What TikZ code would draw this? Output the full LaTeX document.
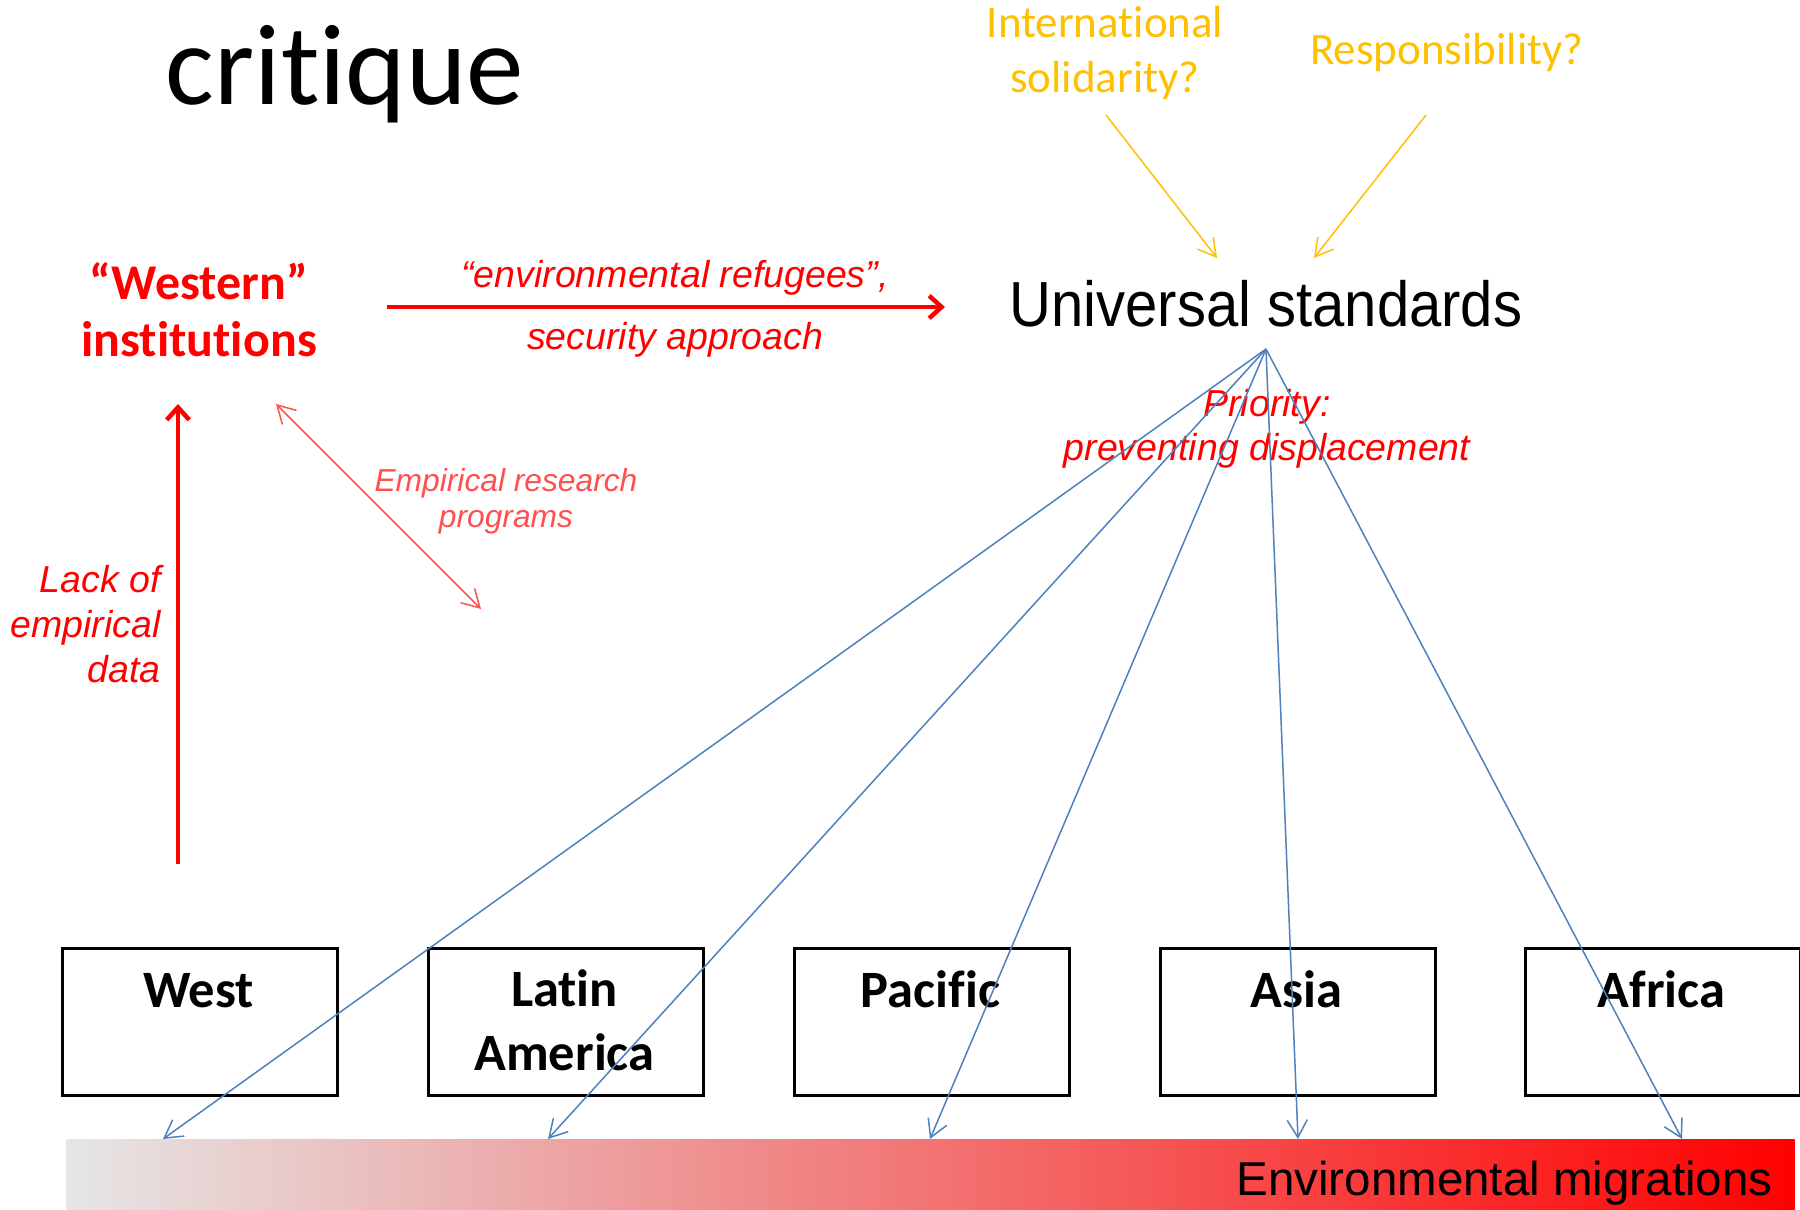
\documentclass[tikz,border=0pt]{standalone}
\usepackage{fontspec}
\setmainfont{Carlito}[Ligatures=NoCommon]
\newfontfamily\arial{Liberation Sans}
\newfontfamily\arialn[FakeStretch=0.91]{Liberation Sans}
\usetikzlibrary{arrows.meta}
\definecolor{gold}{RGB}{255,192,0}
\definecolor{oblue}{RGB}{79,129,189}
\definecolor{lred}{RGB}{255,80,80}
\definecolor{lgrey}{RGB}{230,230,230}
\tikzset{
  titlestyle/.style={font=\fontsize{46}{50}\selectfont, anchor=base, inner sep=0},
  inststyle/.style={font=\fontsize{20}{22.8}\selectfont\bfseries, text=red, align=center, anchor=base, inner sep=0},
  redlbl/.style={font=\arial\itshape\fontsize{15}{18}\selectfont, text=red, anchor=base, inner sep=0},
  empstyle/.style={font=\arial\itshape\fontsize{12.7}{14.5}\selectfont, text=lred, align=center, anchor=base, inner sep=0},
  usstyle/.style={font=\arialn\fontsize{25.5}{30}\selectfont, anchor=base, inner sep=0},
  goldstyle/.style={font=\fontsize{18}{22}\selectfont, text=gold, align=center, anchor=base, inner sep=0},
  regbox/.style={draw=black, line width=1pt, minimum width=110pt, minimum height=58.8pt, inner sep=0, anchor=north west},
  regtxt/.style={font=\fontsize{21}{25.6}\selectfont\bfseries, align=center, anchor=base, inner sep=0},
  migstyle/.style={font=\arial\fontsize{19}{22}\selectfont, anchor=base east, inner sep=0},
  barstyle/.style={left color=lgrey, right color=red, draw=none, minimum width=691.2pt, minimum height=28.4pt, inner sep=0, anchor=north west},
  redthick/.style={draw=red, line width=1.8pt, -{Straight Barb[length=5pt,width=9pt]}},
  bluearr/.style={draw=oblue, line width=0.6pt, -{Straight Barb[length=7pt,width=8pt]}},
  goldarr/.style={draw=gold, line width=0.6pt, -{Straight Barb[length=7pt,width=8pt]}},
  lredarr/.style={draw=lred, line width=0.6pt, {Straight Barb[length=7pt,width=8pt]}-{Straight Barb[length=7pt,width=8pt]}}
}
\begin{document}
\begin{tikzpicture}[x=0.4pt,y=-0.4pt]
\useasboundingbox (0,0) rectangle (1800,1210);
\fill[white] (0,0) rectangle (1800,1210);

% gradient bar
\node[barstyle] (bar) at (66,1139) {};
\node[migstyle] (envmig) at (1773,1195) {Environmental migrations};

% region boxes
\node[regbox] (west) at (61,947) {};
\node[regbox] (latam) at (427,947) {};
\node[regbox] (pacific) at (793,947) {};
\node[regbox] (asia) at (1159,947) {};
\node[regbox] (africa) at (1524,947) {};
\node[regtxt] (westt) at (198.5,1007) {West};
\node[regtxt] (latamt) at (564.5,1070) {Latin\\America};
\node[regtxt] (pacifict) at (930.5,1007) {Pacific};
\node[regtxt] (asiat) at (1296.5,1007) {Asia};
\node[regtxt] (africat) at (1661.5,1007) {Africa};

% texts (anchor base = last line baseline)
\node[titlestyle] (critique) at (345,105) {critique};
\node[inststyle] (inst) at (199,357) {“Western”\\institutions};
\node[redlbl] (envref) at (675,288) {“environmental refugees”,};
\node[redlbl] (secap) at (675,350) {security approach};
\node[usstyle] (us) at (1266,327) {Universal standards};
\node[goldstyle] (solid) at (1105,93) {International\\solidarity?};
\node[goldstyle] (resp) at (1447,65) {Responsibility?};
\node[redlbl, align=right, anchor=base east] (lack) at (161,683) {Lack of\\empirical\\data};
\node[empstyle] (emp) at (506,528) {Empirical research\\programs};
\node[redlbl, align=center, font=\arial\itshape\fontsize{15}{17.6}\selectfont] (prio) at (1267,461) {Priority:\\preventing displacement};

% coordinates
\coordinate (lackS) at (178,864);
\coordinate (lackE) at (178,404);
\coordinate (refS) at (387,307);
\coordinate (refE) at (945,307);
\coordinate (empA) at (276,404);
\coordinate (empB) at (481,609);
\coordinate (solS) at (1106,115);
\coordinate (solE) at (1217,258);
\coordinate (resS) at (1426,115);
\coordinate (resE) at (1314,258);
\coordinate (fan) at (1266,349);
\coordinate (mW) at (163,1139);
\coordinate (mL) at (548,1139);
\coordinate (mP) at (930,1139);
\coordinate (mA) at (1298,1139);
\coordinate (mF) at (1682,1139);

% connectors
\draw[redthick] (lackS) -- (lackE);
\draw[redthick] (refS) -- (refE);
\draw[lredarr] (empA) -- (empB);
\draw[goldarr] (solS) -- (solE);
\draw[goldarr] (resS) -- (resE);
\draw[bluearr] (fan) -- (mW);
\draw[bluearr] (fan) -- (mL);
\draw[bluearr] (fan) -- (mP);
\draw[bluearr] (fan) -- (mA);
\draw[bluearr] (fan) -- (mF);
\end{tikzpicture}
\end{document}
